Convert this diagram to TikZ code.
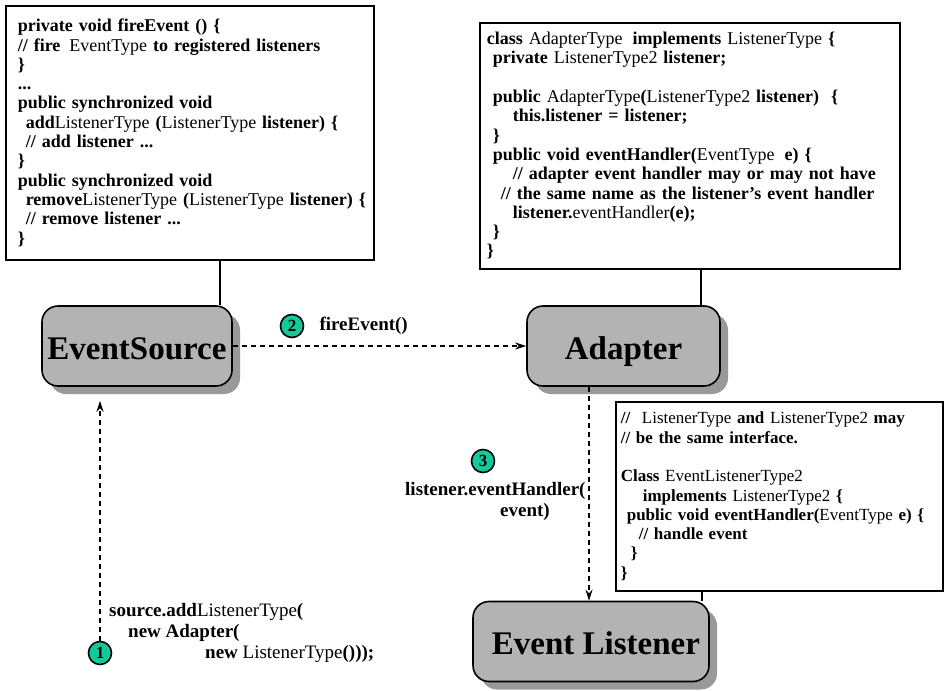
\documentclass[tikz,border=0pt]{standalone}
\usepackage{fontspec}
\setmainfont{Liberation Serif}
\usetikzlibrary{arrows.meta,positioning,shadows}

\definecolor{boxgray}{HTML}{B3B3B3}
\definecolor{shadegray}{HTML}{999999}
\definecolor{stepgreen}{HTML}{14C99B}

\newcommand{\rg}[1]{{\mdseries #1}}
\newcommand{\ind}[1]{\hspace*{#1pt}}

\tikzset{
  codebox/.style={draw, line width=1.6pt, fill=white, anchor=north west, align=left,
    inner xsep=6pt, font=\fontsize{18}{19.3}\selectfont\bfseries},
  actor/.style={draw, line width=1.6pt, fill=boxgray, rounded corners=16pt,
    minimum height=80pt, inner xsep=2pt, text height=26pt, text depth=0pt,
    font=\fontsize{33}{36}\selectfont\bfseries,
    drop shadow={shadow xshift=8pt, shadow yshift=-8pt, fill=shadegray, opacity=1}},
  stepnum/.style={circle, draw, line width=1.6pt, fill=stepgreen, inner sep=0pt,
    minimum size=23pt, font=\fontsize{17}{17}\selectfont\bfseries},
  callnote/.style={align=left, inner sep=0pt, font=\fontsize{19}{21}\selectfont\bfseries},
  call/.style={line width=1.2pt, dash pattern=on 5pt off 4pt, -{Stealth[length=11pt,width=7pt]}},
  link/.style={line width=1.6pt}
}

\begin{document}
\begin{tikzpicture}[x=1pt, y=-1pt]
  \useasboundingbox (0,0) rectangle (944,690);

  % code boxes
  \node[codebox, inner xsep=12pt, text width=344pt, minimum height=254pt] (srcCode) at (5,5) {%
    private void fireEvent () \{\\
    // fire \ind{3}\rg{EventType} to registered listeners\\
    \}\\
    ...\\
    public synchronized void\\
    \mbox{\ind{8}add\rg{ListenerType} (\rg{ListenerType} listener) \{}\\
    \ind{8}// add listener ...\\
    \}\\
    public synchronized void\\
    \mbox{\ind{8}remove\rg{ListenerType} (\rg{ListenerType} listener) \{}\\
    \ind{8}// remove listener ...\\
    \}};
  \node[codebox, inner xsep=7pt, text width=406pt, minimum height=246pt] (adapterCode) at (479,22) {%
    class \rg{AdapterType} \ind{4}implements \rg{ListenerType} \{\\
    \ind{6}private \rg{ListenerType2} listener;\\
    \mbox{}\\
    \ind{6}public \rg{AdapterType}(\rg{ListenerType2} listener) \ind{6}\{\\
    \ind{26}this.listener = listener;\\
    \ind{6}\}\\
    \ind{6}public void eventHandler(\rg{EventType} \ind{4}e) \{\\
    \ind{26}// adapter event handler may or may not have\\
    \mbox{\ind{14}// the same name as the listener's event handler}\\
    \ind{26}listener.\rg{eventHandler}(e);\\
    \ind{6}\}\\
    \}};
  \node[codebox, inner xsep=5pt, text width=317pt, minimum height=189pt,
        font=\fontsize{17}{19.3}\selectfont\bfseries] (handlerCode) at (615,401) {%
    // \ind{6}\rg{ListenerType} and \rg{ListenerType2} may\\
    // be the same interface.\\
    \mbox{}\\
    Class \rg{EventListenerType2}\\
    \ind{22}implements \rg{ListenerType2} \{\\
    \mbox{\ind{6}public void eventHandler(\rg{EventType} e) \{}\\
    \ind{18}// handle event\\
    \ind{10}\}\\
    \}};

  % actors
  \node[actor, minimum width=190pt] (source) at (137,346) {EventSource};
  \node[actor, minimum width=193pt] (adapter) at (623.5,346) {Adapter};
  \node[actor, minimum width=236pt] (listener) at (591,641.5) {\hspace*{10pt}Event Listener};

  % attachments
  \draw[link] ([xshift=-13pt]source.north east) -- ([xshift=-13pt]source.north east |- srcCode.south);
  \draw[link] ([xshift=-20pt]adapter.north east) -- ([xshift=-20pt]adapter.north east |- adapterCode.south);
  \draw[link] ([xshift=-8pt]listener.north east) -- ([xshift=-8pt]listener.north east |- handlerCode.south);

  % steps
  \node[stepnum] (n1) at (100,653) {1};
  \node[stepnum] (n2) at (292,326) {2};
  \node[stepnum] (n3) at (483,461) {3};
  \node[callnote, right=15pt of n2] (fireLbl) {fireEvent()};
  \node[callnote, anchor=north west] (handleLbl) at (405,482)
    {listener.eventHandler(\\\ind{95}event)};
  \node[callnote, anchor=north west] (regLbl) at (109,603)
    {source.add\rg{ListenerType}(\\\ind{19}new Adapter(\\\ind{96}new \rg{ListenerType}()));};

  % calls
  \draw[call, shorten >=14pt] (n1.north) -- (n1.north |- source.south);
  \draw[call] (source.east) -- (adapter.west);
  \draw[call] ([xshift=-2pt]listener.north |- adapter.south) -- ([xshift=-2pt]listener.north);
\end{tikzpicture}
\end{document}
